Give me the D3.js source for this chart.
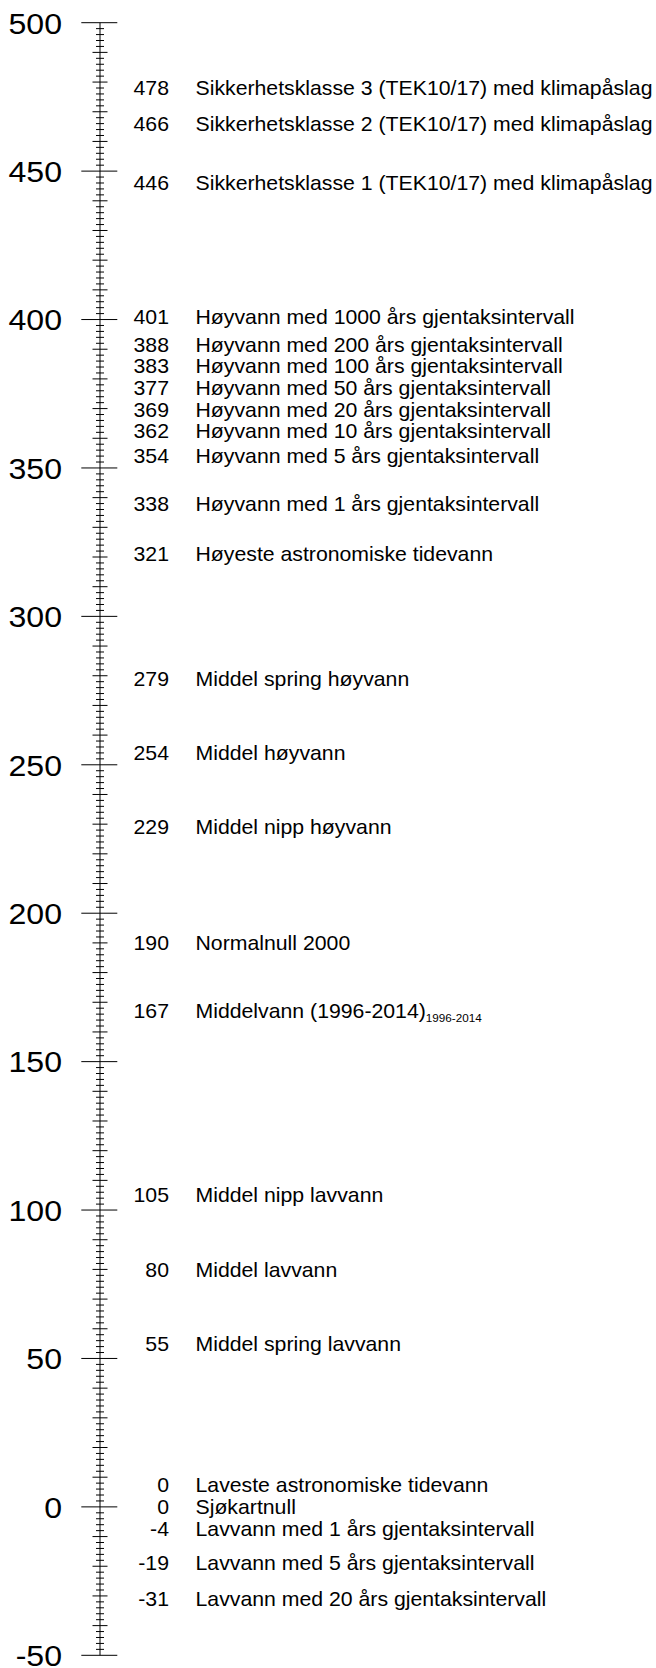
<!DOCTYPE html>
<html>
<head>
<meta charset="utf-8">
<script src="https://cdn.jsdelivr.net/npm/d3@7"></script>
<style>
  html, body { margin: 0; padding: 0; background: #fff; }
  svg { display: block; }
  text { font-family: "Liberation Sans", Arial, sans-serif; fill: #000; }
</style>
</head>
<body>
<svg id="chart" width="656" height="1668"></svg>
<script>
// ---- data ----
const levelValues = [478, 466, 446, 401, 388, 383, 377, 369, 362, 354, 338, 321, 279, 254, 229, 190, 167, 105, 80, 55, 0, 0, -4, -19, -31];
const levelNames = [
  "Sikkerhetsklasse 3 (TEK10/17) med klimapåslag",
  "Sikkerhetsklasse 2 (TEK10/17) med klimapåslag",
  "Sikkerhetsklasse 1 (TEK10/17) med klimapåslag",
  "Høyvann med 1000 års gjentaksintervall",
  "Høyvann med 200 års gjentaksintervall",
  "Høyvann med 100 års gjentaksintervall",
  "Høyvann med 50 års gjentaksintervall",
  "Høyvann med 20 års gjentaksintervall",
  "Høyvann med 10 års gjentaksintervall",
  "Høyvann med 5 års gjentaksintervall",
  "Høyvann med 1 års gjentaksintervall",
  "Høyeste astronomiske tidevann",
  "Middel spring høyvann",
  "Middel høyvann",
  "Middel nipp høyvann",
  "Normalnull 2000",
  "Middelvann (1996-2014)",
  "Middel nipp lavvann",
  "Middel lavvann",
  "Middel spring lavvann",
  "Laveste astronomiske tidevann",
  "Sjøkartnull",
  "Lavvann med 1 års gjentaksintervall",
  "Lavvann med 5 års gjentaksintervall",
  "Lavvann med 20 års gjentaksintervall"
];
const levelSubscripts = ["", "", "", "", "", "", "", "", "", "", "", "", "", "", "", "", "1996-2014", "", "", "", "", "", "", "", ""];
const axisTickLabels = [500, 450, 400, 350, 300, 250, 200, 150, 100, 50, 0, -50];
const axisDomain = [-50, 500];

// ---- layout ----
const svg = d3.select("#chart");
const axisX = 100;
const y = d3.scaleLinear().domain(axisDomain).range([1655.3, 22.7]);

// axis line
svg.append("line")
  .attr("x1", axisX).attr("x2", axisX)
  .attr("y1", y(axisDomain[0])).attr("y2", y(axisDomain[1]))
  .attr("stroke", "#000").attr("stroke-width", 1);

// minor ticks (every 2), medium (every 10), major (every 50)
const allTicks = d3.range(axisDomain[0], axisDomain[1] + 0.001, 2);
svg.append("g").selectAll("line")
  .data(allTicks)
  .join("line")
  .attr("x1", d => d % 50 === 0 ? axisX - 18.7 : (d % 10 === 0 ? axisX - 7.5 : axisX - 4))
  .attr("x2", d => d % 50 === 0 ? axisX + 17.3 : (d % 10 === 0 ? axisX + 7.5 : axisX + 4))
  .attr("y1", d => y(d)).attr("y2", d => y(d))
  .attr("stroke", "#000").attr("stroke-width", 1);

// axis tick labels
svg.append("g").selectAll("text")
  .data(axisTickLabels)
  .join("text")
  .attr("transform", d => `translate(62,${y(d)}) scale(1.07,1)`)
  .attr("dy", "0.36em")
  .attr("text-anchor", "end")
  .style("font-size", "30px")
  .text(d => d);

// level labels with de-overlap (min gap), clusters centred on their median
const gap = 21.6;
const items = levelValues.map((v, i) => ({ v, name: levelNames[i], sub: levelSubscripts[i], ideal: y(v), idx: i }))
  .sort((a, b) => a.ideal - b.ideal || a.idx - b.idx);
const clusters = [];
items.forEach(it => {
  clusters.push({ items: [it], top: it.ideal });
  while (clusters.length > 1) {
    const cur = clusters[clusters.length - 1];
    const prev = clusters[clusters.length - 2];
    if (prev.top + prev.items.length * gap > cur.top) {
      const merged = prev.items.concat(cur.items);
      const mid = d3.median(merged, d => d.ideal);
      clusters.splice(clusters.length - 2, 2, { items: merged, top: mid - (merged.length - 1) * gap / 2 });
    } else break;
  }
});
clusters.forEach(c => c.items.forEach((it, k) => { it.pos = c.top + k * gap; }));

const lab = svg.append("g").selectAll("g")
  .data(items)
  .join("g");

lab.append("text")
  .attr("transform", d => `translate(169,${d.pos}) scale(1.063,1)`)
  .attr("dy", "0.36em")
  .attr("text-anchor", "end")
  .style("font-size", "20px")
  .text(d => d.v);

const nameText = lab.append("text")
  .attr("transform", d => `translate(195.5,${d.pos}) scale(1.063,1)`)
  .attr("dy", "0.36em")
  .style("font-size", "20px");
nameText.append("tspan").text(d => d.name);
nameText.filter(d => d.sub).append("tspan")
  .attr("dy", "4")
  .style("font-size", "11px")
  .text(d => d.sub);
</script>
</body>
</html>
